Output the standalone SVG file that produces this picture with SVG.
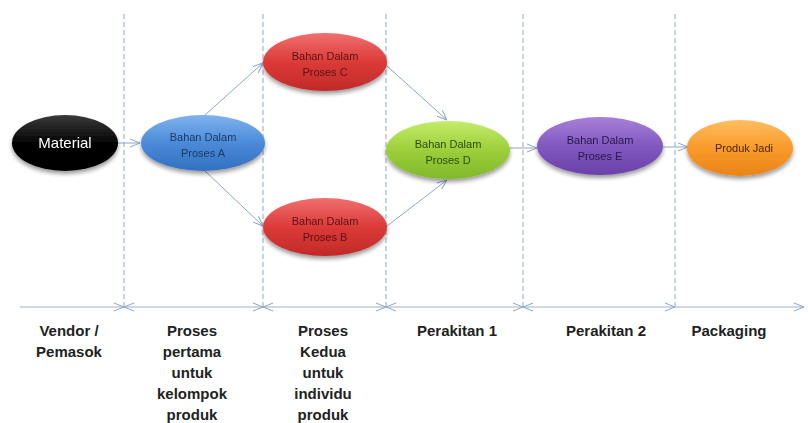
<svg xmlns="http://www.w3.org/2000/svg" width="808" height="423" viewBox="0 0 808 423">
<style>
.lane{stroke:#8ea9c4;stroke-width:1;stroke-dasharray:5,3;fill:none}
.axis{stroke:#9db3c9;stroke-width:1.2;fill:none}
.conn{stroke:#8ca7c3;stroke-width:1;fill:none}
.nt{font-family:"Liberation Sans",Arial,sans-serif;font-size:11px;text-anchor:middle}
.lbl{font-family:"Liberation Sans",Arial,sans-serif;font-size:15px;font-weight:bold;fill:#222;text-anchor:middle}
</style>
<defs>
<marker id="ah" viewBox="0 0 10 10" refX="10" refY="5" markerWidth="10" markerHeight="10" markerUnits="userSpaceOnUse" orient="auto-start-reverse">
<path d="M0,1 L10,5 L0,9" fill="none" stroke="#8ca7c3" stroke-width="1"/>
</marker>
<filter id="sh" x="-20%" y="-20%" width="140%" height="150%">
<feGaussianBlur in="SourceAlpha" stdDeviation="2"/>
<feOffset dx="0" dy="3" result="b"/>
<feComponentTransfer><feFuncA type="linear" slope="0.4"/></feComponentTransfer>
<feMerge><feMergeNode/><feMergeNode in="SourceGraphic"/></feMerge>
</filter>
<linearGradient id="gk" x1="0" y1="0" x2="0" y2="1"><stop offset="0" stop-color="#3a3a3a"/><stop offset="0.5" stop-color="#050505"/><stop offset="1" stop-color="#000"/></linearGradient>
<linearGradient id="gb" x1="0" y1="0" x2="0" y2="1"><stop offset="0" stop-color="#7fb3ee"/><stop offset="0.5" stop-color="#4b8ad8"/><stop offset="1" stop-color="#3270c0"/></linearGradient>
<linearGradient id="gr" x1="0" y1="0" x2="0" y2="1"><stop offset="0" stop-color="#f07070"/><stop offset="0.5" stop-color="#dc3a38"/><stop offset="1" stop-color="#c02a28"/></linearGradient>
<linearGradient id="gg" x1="0" y1="0" x2="0" y2="1"><stop offset="0" stop-color="#c4ec6a"/><stop offset="0.5" stop-color="#9ccf3a"/><stop offset="1" stop-color="#80b82a"/></linearGradient>
<linearGradient id="gp" x1="0" y1="0" x2="0" y2="1"><stop offset="0" stop-color="#a880d8"/><stop offset="0.5" stop-color="#8158c0"/><stop offset="1" stop-color="#6a40a8"/></linearGradient>
<linearGradient id="go" x1="0" y1="0" x2="0" y2="1"><stop offset="0" stop-color="#ffbe60"/><stop offset="0.5" stop-color="#f99a2a"/><stop offset="1" stop-color="#ea8418"/></linearGradient>
</defs>
<rect width="808" height="423" fill="#fff"/>
<g id="lanes">
<line class="lane" x1="124" y1="14" x2="124" y2="307"/>
<line class="lane" x1="263" y1="14" x2="263" y2="307"/>
<line class="lane" x1="386" y1="14" x2="386" y2="307"/>
<line class="lane" x1="523" y1="14" x2="523" y2="307"/>
<line class="lane" x1="675" y1="14" x2="675" y2="307"/>
</g>
<g id="axis">
<line class="axis" x1="20" y1="307" x2="124" y2="307" marker-end="url(#ah)"/>
<line class="axis" x1="124" y1="307" x2="263" y2="307" marker-start="url(#ah)" marker-end="url(#ah)"/>
<line class="axis" x1="263" y1="307" x2="386" y2="307" marker-start="url(#ah)" marker-end="url(#ah)"/>
<line class="axis" x1="386" y1="307" x2="523" y2="307" marker-start="url(#ah)" marker-end="url(#ah)"/>
<line class="axis" x1="523" y1="307" x2="675" y2="307" marker-start="url(#ah)" marker-end="url(#ah)"/>
<line class="axis" x1="675" y1="307" x2="804" y2="307" marker-end="url(#ah)"/>
</g>
<g id="connectors">
<line class="conn" x1="118" y1="143" x2="140" y2="143" marker-end="url(#ah)"/>
<line class="conn" x1="205" y1="115" x2="263" y2="63" marker-end="url(#ah)"/>
<line class="conn" x1="205" y1="171" x2="263" y2="226" marker-end="url(#ah)"/>
<line class="conn" x1="387" y1="66" x2="447" y2="120" marker-end="url(#ah)"/>
<line class="conn" x1="387" y1="226" x2="447" y2="180" marker-end="url(#ah)"/>
<line class="conn" x1="510" y1="148" x2="537" y2="148" marker-end="url(#ah)"/>
<line class="conn" x1="663" y1="147" x2="688" y2="147" marker-end="url(#ah)"/>
</g>
<g id="material" filter="url(#sh)">
<ellipse cx="65" cy="143" rx="53" ry="28" fill="url(#gk)"/>
<text x="65" y="148" class="nt" style="font-size:15px" fill="#fff">Material</text>
</g>
<g id="prosesA" filter="url(#sh)">
<ellipse cx="203" cy="143" rx="62" ry="28" fill="url(#gb)"/>
<text x="203" y="141" class="nt" fill="#1c3a66">Bahan Dalam</text>
<text x="203" y="157" class="nt" fill="#1c3a66">Proses A</text>
</g>
<g id="prosesC" filter="url(#sh)">
<ellipse cx="325" cy="62" rx="62" ry="29" fill="url(#gr)"/>
<text x="325" y="60" class="nt" fill="#5a1212">Bahan Dalam</text>
<text x="325" y="76" class="nt" fill="#5a1212">Proses C</text>
</g>
<g id="prosesB" filter="url(#sh)">
<ellipse cx="325" cy="227" rx="62" ry="29" fill="url(#gr)"/>
<text x="325" y="225" class="nt" fill="#5a1212">Bahan Dalam</text>
<text x="325" y="241" class="nt" fill="#5a1212">Proses B</text>
</g>
<g id="prosesD" filter="url(#sh)">
<ellipse cx="448" cy="150" rx="62" ry="29" fill="url(#gg)"/>
<text x="448" y="148" class="nt" fill="#2e4a0e">Bahan Dalam</text>
<text x="448" y="164" class="nt" fill="#2e4a0e">Proses D</text>
</g>
<g id="prosesE" filter="url(#sh)">
<ellipse cx="600" cy="146" rx="63" ry="29" fill="url(#gp)"/>
<text x="600" y="144" class="nt" fill="#2a1646">Bahan Dalam</text>
<text x="600" y="160" class="nt" fill="#2a1646">Proses E</text>
</g>
<g id="produk" filter="url(#sh)">
<ellipse cx="740" cy="148" rx="53" ry="28" fill="url(#go)"/>
<text x="744" y="152" class="nt" fill="#4a2800">Produk Jadi</text>
</g>
<g id="labels">
<text class="lbl" x="69" y="336">Vendor /</text>
<text class="lbl" x="69" y="357">Pemasok</text>
<text class="lbl" x="192" y="336">Proses</text>
<text class="lbl" x="192" y="357">pertama</text>
<text class="lbl" x="192" y="378">untuk</text>
<text class="lbl" x="192" y="399">kelompok</text>
<text class="lbl" x="192" y="420">produk</text>
<text class="lbl" x="323" y="336">Proses</text>
<text class="lbl" x="323" y="357">Kedua</text>
<text class="lbl" x="323" y="378">untuk</text>
<text class="lbl" x="323" y="399">individu</text>
<text class="lbl" x="323" y="420">produk</text>
<text class="lbl" x="457" y="336">Perakitan 1</text>
<text class="lbl" x="606" y="336">Perakitan 2</text>
<text class="lbl" x="729" y="336">Packaging</text>
</g>
</svg>
